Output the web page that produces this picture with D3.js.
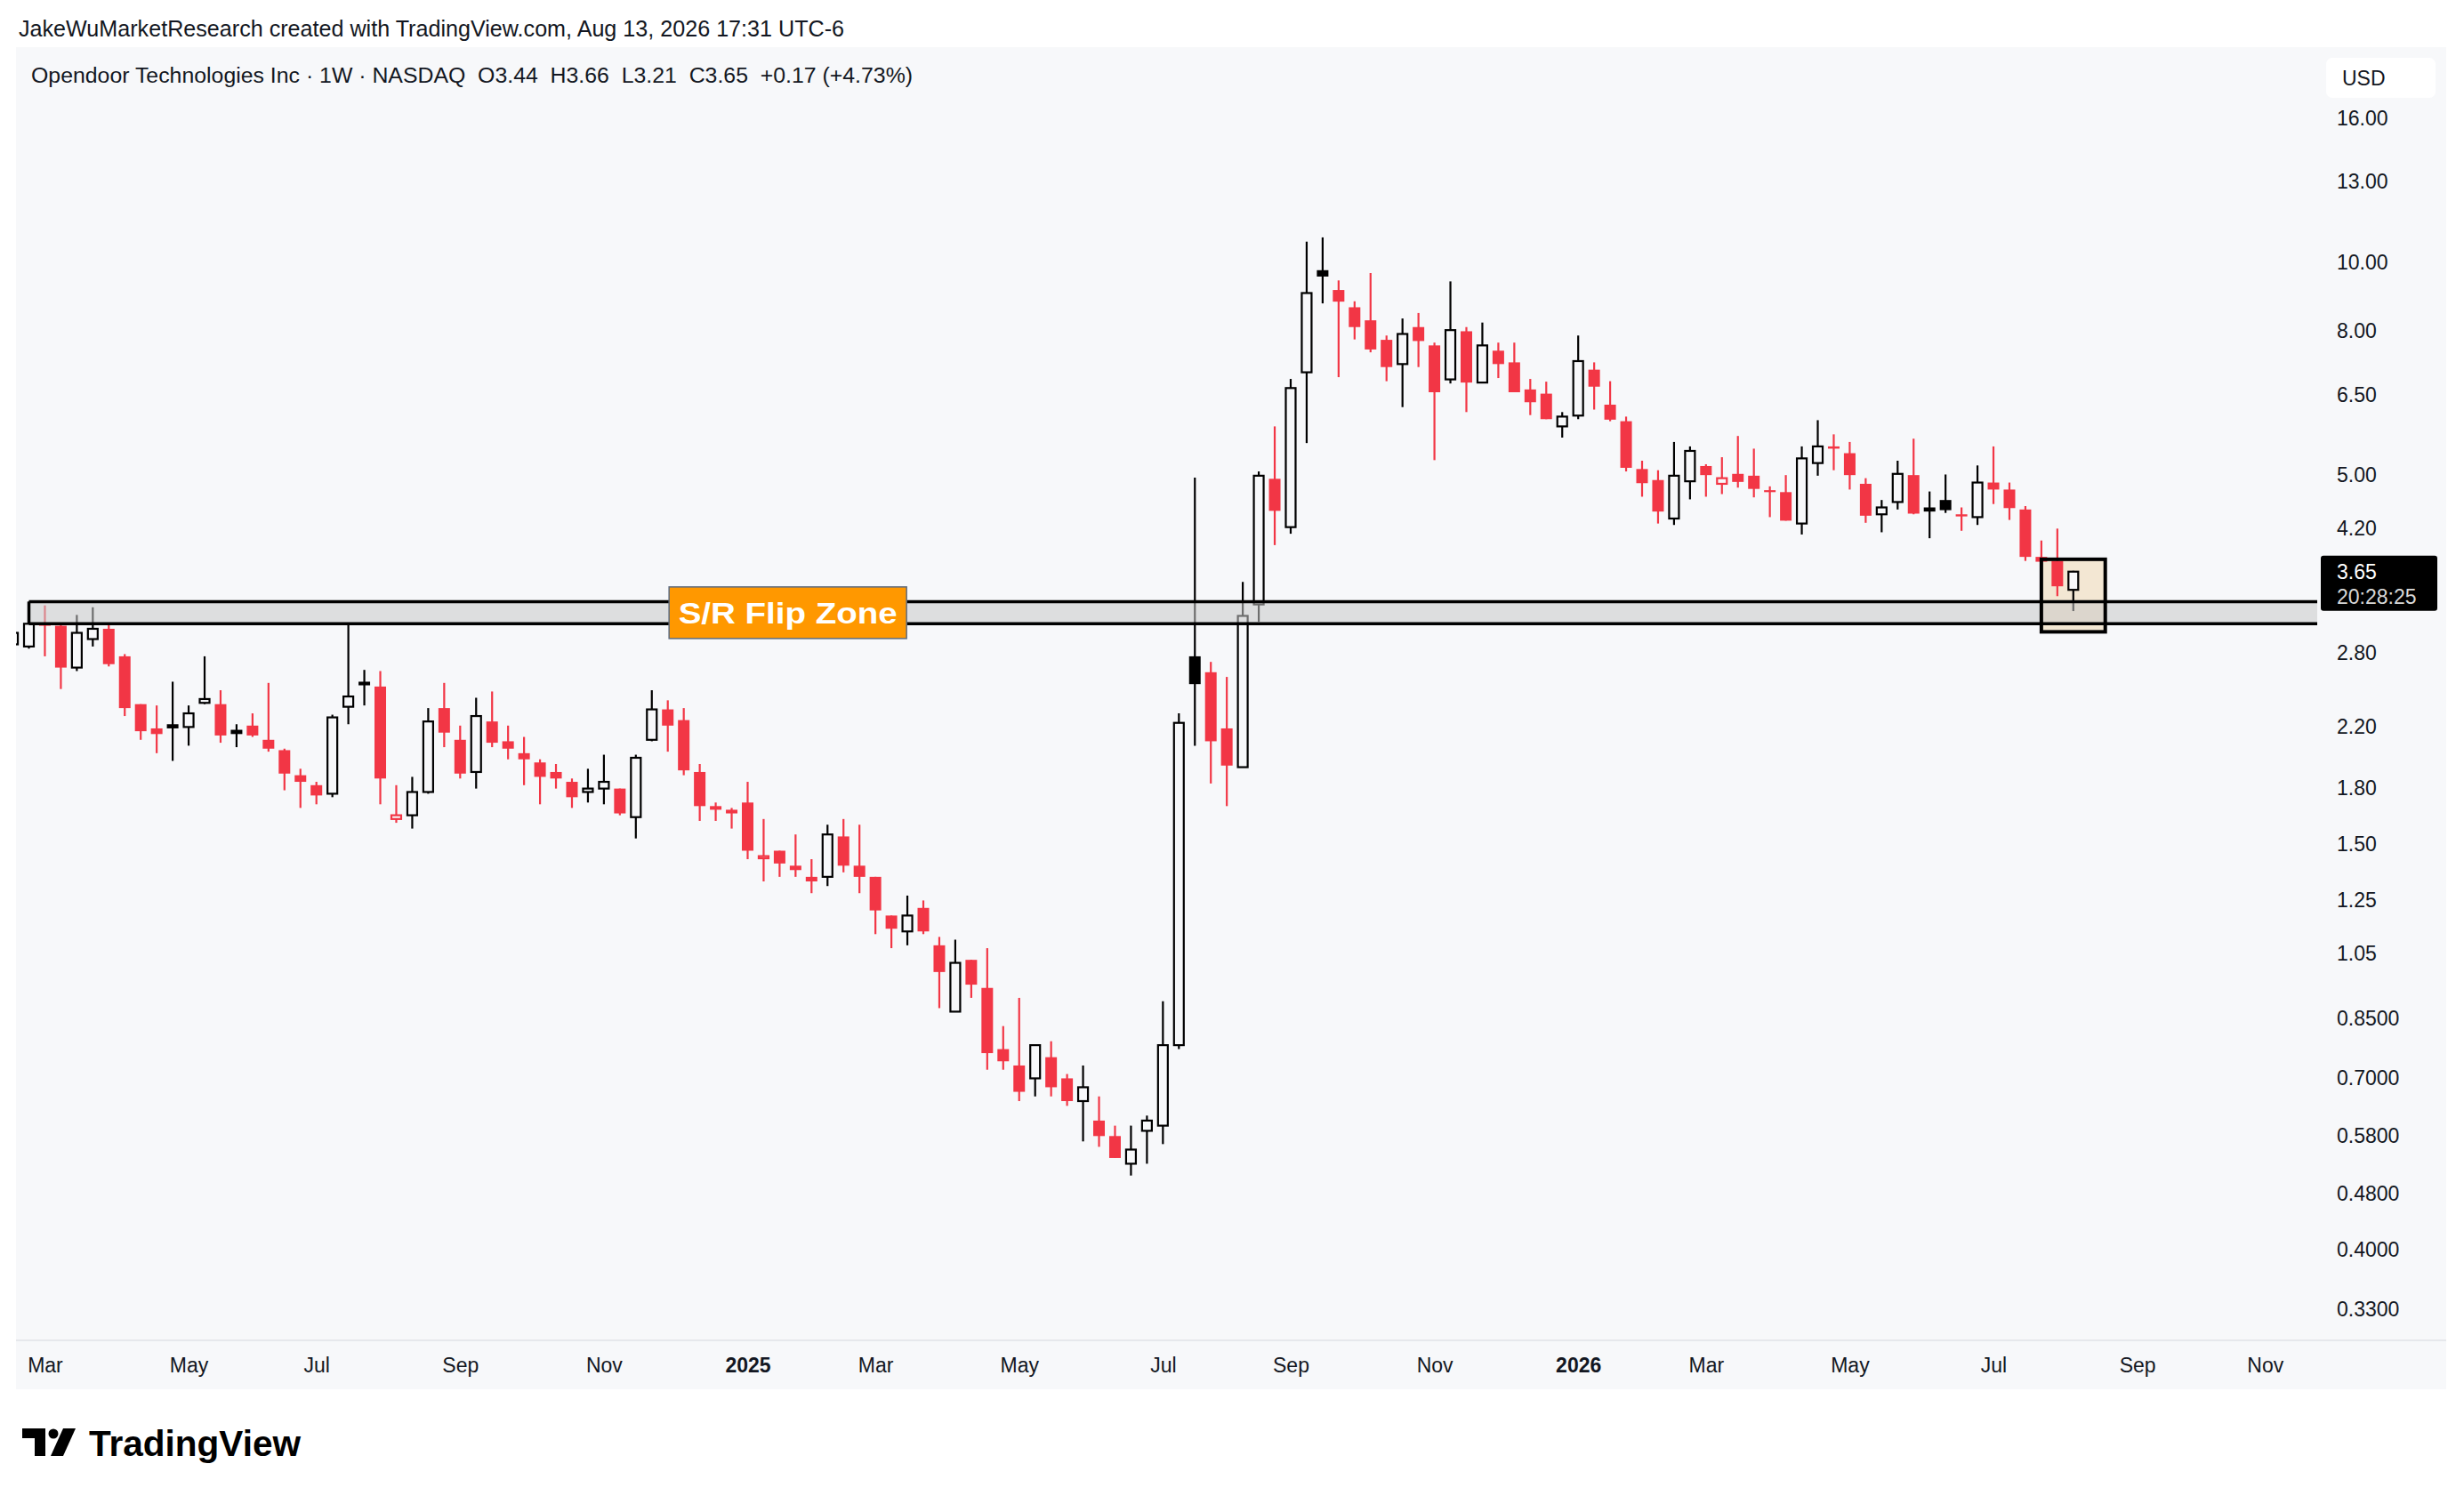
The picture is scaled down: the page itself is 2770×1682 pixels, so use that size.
<!DOCTYPE html>
<html><head><meta charset="utf-8">
<script src="https://cdn.jsdelivr.net/npm/d3@7"></script>
<style>
html,body{margin:0;padding:0;background:#ffffff;}
svg{display:block;}
text{font-family:"Liberation Sans",Arial,Helvetica,sans-serif;}
</style>
</head><body>
<svg id="chart" width="2770" height="1682"></svg>
<script>
// ---------------- DATA ----------------
const firstWeek = "2024-02-19";   // weekly bars (Monday dates)
const open = [2.88, 2.86,3.09,3.06,2.67,2.93,3.03,2.77,2.37,2.19,2.22,
  2.20,2.38,2.37,2.18,2.21,2.11,2.04,1.88,1.82,1.77,
  2.35,2.55,2.51,1.63,1.65,1.78,2.34,2.11,1.90,2.24,
  2.10,2.02,1.96,1.90,1.84,1.78,1.80,1.80,1.64,2.11,
  2.33,2.25,1.90,1.70,1.68,1.72,1.43,1.47,1.40,1.35,
  1.35,1.54,1.40,1.35,1.19,1.13,1.22,1.08,0.87,1.03,
  0.94,0.77,0.73,0.70,0.75,0.70,0.65,0.61,0.58,0.53,
  0.59,0.60,0.78,2.77,2.63,2.19,1.93,3.28,4.94,4.22,
  6.99,9.75,9.14,8.64,8.28,7.77,7.18,8.10,7.63,6.83,
  7.99,6.76,7.50,7.22,6.61,6.52,5.86,6.07,7.05,6.29,
  5.96,5.10,4.92,4.34,4.90,5.15,4.86,5.02,4.99,4.76,
  4.73,4.27,5.20,5.49,5.37,4.86,4.40,4.58,5.00,4.50,
  4.61,4.40,4.36,4.88,4.77,4.47,3.83,3.78,3.44];
const high = [3.02, 3.31,3.27,3.09,3.17,3.25,3.07,2.79,2.37,2.36,2.55,
  2.36,2.77,2.48,2.22,2.30,2.54,2.05,1.92,1.84,2.29,
  3.08,2.65,2.64,1.82,1.87,2.34,2.54,2.21,2.42,2.47,
  2.21,2.13,1.98,1.95,1.86,1.92,2.01,1.80,2.01,2.48,
  2.40,2.34,1.95,1.72,1.69,1.84,1.63,1.47,1.55,1.43,
  1.60,1.63,1.60,1.35,1.19,1.27,1.25,1.11,1.10,1.03,
  1.07,0.83,0.91,0.78,0.79,0.71,0.73,0.66,0.60,0.60,
  0.62,0.90,2.30,4.96,2.72,2.59,3.53,5.06,5.86,6.84,
  10.7,10.85,9.43,8.81,9.66,7.88,8.33,8.48,7.70,9.40,
  8.10,8.22,7.70,7.70,6.84,6.78,6.14,7.88,7.22,6.79,
  6.05,5.24,5.08,5.57,5.49,5.18,5.30,5.68,5.45,4.82,
  5.00,5.49,5.98,5.71,5.57,4.95,4.61,5.24,5.63,4.74,
  5.01,4.50,5.16,5.49,4.88,4.52,4.04,4.20,3.66];
const low = [2.84, 2.84,2.77,2.49,2.64,2.86,2.68,2.28,2.11,2.02,1.97,
  2.07,2.37,2.09,2.06,2.13,2.03,1.79,1.69,1.71,1.75,
  2.22,2.36,1.71,1.61,1.58,1.77,2.06,1.86,1.80,2.06,
  1.98,1.82,1.71,1.80,1.69,1.72,1.71,1.65,1.53,2.10,
  2.03,1.88,1.62,1.62,1.58,1.43,1.33,1.35,1.35,1.28,
  1.31,1.37,1.28,1.12,1.07,1.08,1.12,0.88,0.87,0.91,
  0.72,0.72,0.65,0.66,0.66,0.64,0.57,0.56,0.54,0.51,
  0.53,0.565,0.77,2.07,1.83,1.70,1.93,3.10,3.98,4.13,
  5.55,8.75,6.88,7.78,7.46,6.79,6.24,7.11,5.25,6.74,
  6.14,6.76,6.86,6.55,6.08,6.00,5.65,6.00,6.19,5.96,
  5.06,4.66,4.27,4.25,4.62,4.66,4.70,4.80,4.65,4.36,
  4.31,4.12,4.99,5.08,4.77,4.28,4.15,4.47,4.40,4.07,
  4.42,4.17,4.25,4.55,4.32,3.78,3.72,3.37,3.21];
const close = [2.99, 3.08,3.06,2.67,2.99,3.03,2.70,2.34,2.17,2.15,2.19,
  2.30,2.41,2.14,2.15,2.14,2.05,1.89,1.84,1.76,2.27,
  2.43,2.52,1.86,1.65,1.78,2.24,2.16,1.89,2.28,2.09,
  2.05,1.98,1.87,1.86,1.75,1.80,1.84,1.66,1.99,2.33,
  2.21,1.91,1.70,1.68,1.66,1.47,1.44,1.41,1.38,1.33,
  1.55,1.40,1.35,1.21,1.14,1.19,1.13,0.99,1.02,0.95,
  0.76,0.74,0.67,0.78,0.68,0.65,0.68,0.58,0.54,0.555,
  0.61,0.78,2.23,2.53,2.10,1.94,3.16,4.99,4.45,6.64,
  9.05,9.55,8.80,8.10,7.53,7.11,7.92,7.74,6.55,8.02,
  6.76,7.63,7.18,6.55,6.34,6.00,6.05,7.25,6.67,5.99,
  5.12,4.87,4.44,4.99,5.41,5.00,4.95,4.89,4.78,4.73,
  4.31,5.28,5.49,5.45,5.00,4.38,4.50,5.02,4.41,4.44,
  4.46,4.37,4.88,4.77,4.49,3.83,3.77,3.48,3.65];

const priceTicks = [16,13,10,8,6.5,5,4.2,2.8,2.2,1.8,1.5,1.25,1.05,0.85,0.7,0.58,0.48,0.40,0.33];
const priceTickLabels = ["16.00","13.00","10.00","8.00","6.50","5.00","4.20","2.80","2.20","1.80","1.50","1.25","1.05","0.8500","0.7000","0.5800","0.4800","0.4000","0.3300"];
const timeTickDates = ["2024-03-04","2024-05-06","2024-07-01","2024-09-02","2024-11-04","2025-01-06","2025-03-03","2025-05-05","2025-07-07","2025-09-01","2025-11-03","2026-01-05","2026-03-02","2026-05-04","2026-07-06","2026-09-07","2026-11-02"];
const timeTickLabels = ["Mar","May","Jul","Sep","Nov","2025","Mar","May","Jul","Sep","Nov","2026","Mar","May","Jul","Sep","Nov"];

const zoneTop = 3.31, zoneBottom = 3.08, zoneStart = "2024-02-26";
const boxStart = "2026-07-27", boxEnd = "2026-08-24", boxTop = 3.80, boxBottom = 3.00;
const labelDate = "2025-01-24";
const lastPrice = 3.65, countdown = "20:28:25";

const headerText = "JakeWuMarketResearch created with TradingView.com, Aug 13, 2026 17:31 UTC-6";
const titleText = "Opendoor Technologies Inc · 1W · NASDAQ  O3.44  H3.66  L3.21  C3.65  +0.17 (+4.73%)";

// ---------------- SETUP ----------------
const parse = d3.timeParse("%Y-%m-%d");
const start = parse(firstWeek);
const dates = open.map((_, i) => d3.timeWeek.offset(start, i));

const W = 2770, H = 1682;
const panel = {x0: 18, x1: 2750, y0: 53, y1: 1562};
const plot = {x0: 18, x1: 2605, y0: 53, y1: 1506};
const BG = "#f7f8fa", RED = "#f23645", BLK = "#000000";

const x = d3.scaleTime()
  .domain([parse("2024-02-26"), parse("2026-08-10")])
  .range([32.5, 2330.8]);
const y = d3.scaleLog()
  .domain([0.2989, 20.17])
  .range([plot.y1, plot.y0]);

const svg = d3.select("#chart");
svg.append("rect").attr("width", W).attr("height", H).attr("fill", "#ffffff");

// header
svg.append("text").attr("x", 21).attr("y", 41)
  .attr("font-size", 25).attr("fill", "#131722")
  .attr("textLength", 928).attr("lengthAdjust", "spacingAndGlyphs")
  .text(headerText);

// panel
svg.append("rect").attr("x", panel.x0).attr("y", panel.y0)
  .attr("width", panel.x1 - panel.x0).attr("height", panel.y1 - panel.y0)
  .attr("fill", BG);
svg.append("line").attr("x1", panel.x0).attr("x2", panel.x1)
  .attr("y1", plot.y1 + 1).attr("y2", plot.y1 + 1)
  .attr("stroke", "#e6e8ec").attr("stroke-width", 2);

// title
svg.append("text").attr("x", 35).attr("y", 93)
  .attr("font-size", 23).attr("fill", "#131722")
  .style("white-space", "pre")
  .attr("textLength", 991).attr("lengthAdjust", "spacingAndGlyphs")
  .text(titleText);

// clip
svg.append("defs").append("clipPath").attr("id", "plotclip")
  .append("rect").attr("x", plot.x0).attr("y", plot.y0)
  .attr("width", plot.x1 - plot.x0).attr("height", plot.y1 - plot.y0);

const g = svg.append("g").attr("clip-path", "url(#plotclip)");

// beige highlight box fill (under candles)
const bx0 = x(parse(boxStart)), bx1 = x(parse(boxEnd));
g.append("rect").attr("x", bx0).attr("y", y(boxTop))
  .attr("width", bx1 - bx0).attr("height", y(boxBottom) - y(boxTop))
  .attr("fill", "#f3e7d3");

// candles
const bodyW = 13;
const candles = g.append("g").selectAll("g").data(dates).join("g");
candles.each(function(d, i) {
  const o = open[i], h = high[i], l = low[i], c = close[i];
  const prev = i > 0 ? close[i - 1] : o;
  const col = c >= prev ? BLK : RED;
  const filled = c < o;
  const cx = x(d);
  const sel = d3.select(this);
  sel.append("line").attr("x1", cx).attr("x2", cx)
    .attr("y1", y(h)).attr("y2", y(l))
    .attr("stroke", col).attr("stroke-width", 2.2);
  const yt = y(Math.max(o, c)), yb = y(Math.min(o, c));
  const bh = Math.max(2, yb - yt);
  if (filled) {
    sel.append("rect").attr("x", cx - bodyW / 2).attr("y", yt)
      .attr("width", bodyW).attr("height", bh).attr("fill", col);
  } else {
    sel.append("rect").attr("x", cx - bodyW / 2 + 1).attr("y", yt - (bh < 3 ? 1 : 0))
      .attr("width", bodyW - 2).attr("height", Math.max(2, bh))
      .attr("fill", BG).attr("stroke", col).attr("stroke-width", 2.2);
  }
});

// S/R zone
const zx0 = x(parse(zoneStart));
g.append("rect").attr("x", zx0).attr("y", y(zoneTop))
  .attr("width", plot.x1 - zx0).attr("height", y(zoneBottom) - y(zoneTop))
  .attr("fill", "#c8c8c8").attr("fill-opacity", 0.55);
[zoneTop, zoneBottom].forEach(p => {
  g.append("line").attr("x1", zx0).attr("x2", plot.x1)
    .attr("y1", y(p)).attr("y2", y(p))
    .attr("stroke", "#000").attr("stroke-width", 3.5);
});
g.append("line").attr("x1", zx0).attr("x2", zx0)
  .attr("y1", y(zoneTop)).attr("y2", y(zoneBottom))
  .attr("stroke", "#000").attr("stroke-width", 3.5);

// beige box outline
g.append("rect").attr("x", bx0).attr("y", y(boxTop))
  .attr("width", bx1 - bx0).attr("height", y(boxBottom) - y(boxTop))
  .attr("fill", "none")
  .attr("stroke", "#000").attr("stroke-width", 4);

// S/R label
const lx = x(parse(labelDate)), ly = y(Math.sqrt(zoneTop * zoneBottom));
svg.append("rect").attr("x", lx - 134.5).attr("y", ly - 29)
  .attr("width", 267).attr("height", 58)
  .attr("fill", "#ff9800").attr("stroke", "#5d6b80").attr("stroke-width", 1.5);
svg.append("text").attr("x", lx - 1).attr("y", ly + 12)
  .attr("text-anchor", "middle").attr("font-size", 34).attr("font-weight", "bold")
  .attr("fill", "#ffffff").attr("textLength", 246).attr("lengthAdjust", "spacingAndGlyphs")
  .text("S/R Flip Zone");

// price axis
const yAxis = d3.axisRight(y).tickValues(priceTicks)
  .tickFormat((d, i) => priceTickLabels[i]).tickSize(0).tickPadding(0);
const ya = svg.append("g").attr("transform", `translate(2627,0)`).call(yAxis);
ya.select(".domain").remove();
ya.selectAll("text").attr("font-size", 23).attr("fill", "#131722")
  .attr("font-family", "Liberation Sans, Arial, sans-serif").attr("text-anchor", "start");

// USD box
svg.append("rect").attr("x", 2615).attr("y", 65).attr("width", 123).attr("height", 45)
  .attr("rx", 7).attr("fill", "#ffffff");
svg.append("text").attr("x", 2633).attr("y", 96).attr("font-size", 23)
  .attr("fill", "#131722").text("USD");

// last price tag
const ty = y(lastPrice);
svg.append("rect").attr("x", 2609).attr("y", ty - 18).attr("width", 131).attr("height", 62)
  .attr("rx", 3).attr("fill", "#000000");
svg.append("text").attr("x", 2627).attr("y", ty + 8).attr("font-size", 23)
  .attr("fill", "#ffffff").text(lastPrice.toFixed(2));
svg.append("text").attr("x", 2627).attr("y", ty + 36).attr("font-size", 23)
  .attr("fill", "#d8d8d8").text(countdown);

// time axis
const tDates = timeTickDates.map(parse);
const xAxis = d3.axisBottom(x).tickValues(tDates)
  .tickFormat((d, i) => timeTickLabels[i]).tickSize(0).tickPadding(0);
const xa = svg.append("g").attr("transform", `translate(0,1527)`).call(xAxis);
xa.select(".domain").remove();
xa.selectAll("text").attr("font-size", 23).attr("fill", "#131722")
  .attr("font-family", "Liberation Sans, Arial, sans-serif")
  .attr("font-weight", (d, i) => /^\d/.test(timeTickLabels[i]) ? "bold" : "normal");

// TradingView logo
const logo = svg.append("g").attr("fill", "#000000");
logo.append("path").attr("d", "M25,1606 L51,1606 L51,1637 L39,1637 L39,1617 L25,1617 Z");
logo.append("circle").attr("cx", 60).attr("cy", 1612).attr("r", 5.5);
logo.append("path").attr("d", "M71,1606 L85,1606 L71,1637 L57,1637 Z");
logo.append("text").attr("x", 100).attr("y", 1637)
  .attr("font-family", "Inter, 'Open Sans', sans-serif").attr("font-weight", 700)
  .attr("font-size", 40).attr("textLength", 238).attr("lengthAdjust", "spacingAndGlyphs")
  .text("TradingView");
</script>
</body></html>
